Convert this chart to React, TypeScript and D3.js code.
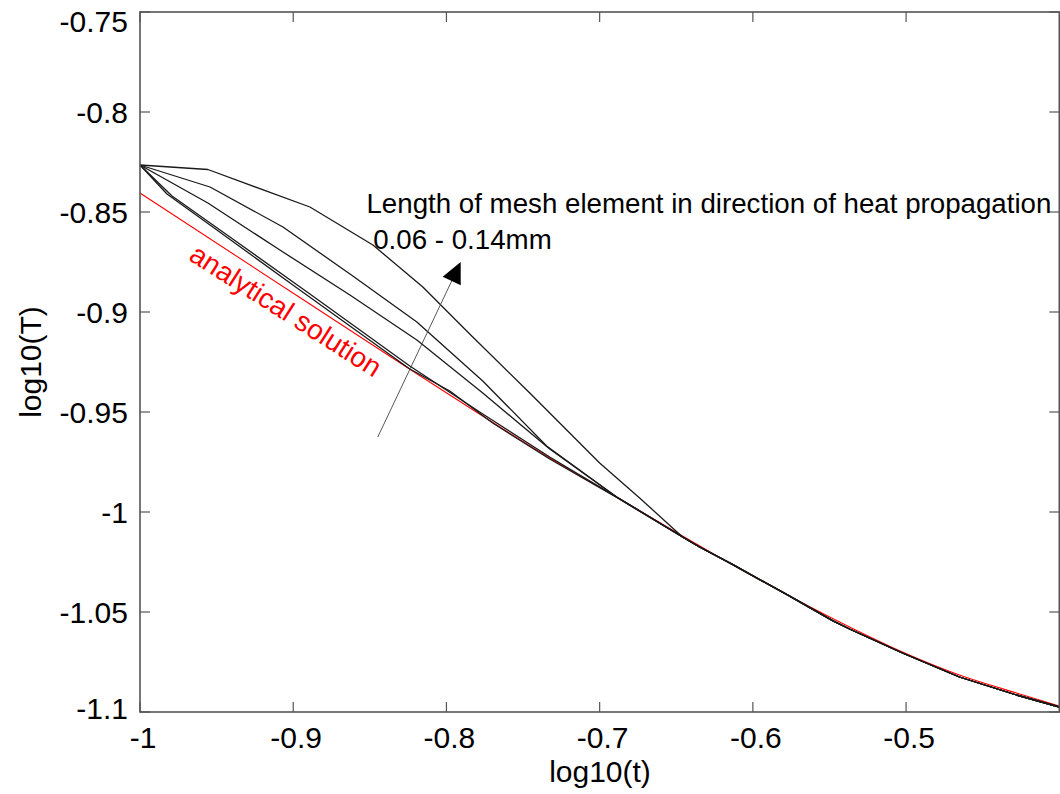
import React from 'react';
import * as d3 from 'd3';

// ---- tick values / labels ----
const xTicks: number[] = [-1, -0.9, -0.8, -0.7, -0.6, -0.5];
const xTickLabels: string[] = ['-1', '-0.9', '-0.8', '-0.7', '-0.6', '-0.5'];
const yTicks: number[] = [-0.75, -0.8, -0.85, -0.9, -0.95, -1, -1.05, -1.1];
const yTickLabels: string[] = ['-0.75', '-0.8', '-0.85', '-0.9', '-0.95', '-1', '-1.05', '-1.1'];

// ---- data: log10(t), log10(T) ----
// shared tail of all numerical curves (they coincide after log10(t) ~ -0.69)
const numericTail: [number, number][] = [
  [-0.6459, -1.0125], [-0.6348, -1.0175], [-0.6133, -1.0262], [-0.6002, -1.0318],
  [-0.578, -1.0412], [-0.548, -1.0543], [-0.5369, -1.0585], [-0.5024, -1.0705],
  [-0.4652, -1.0825], [-0.428, -1.0915], [-0.4, -1.0975],
];
// coarsest mesh (0.14 mm)
const meshA: [number, number][] = [
  [-1, -0.8265], [-0.9557, -0.82875], [-0.8891, -0.8475], [-0.848, -0.8665],
  [-0.8154, -0.8875], [-0.7848, -0.911], [-0.7456, -0.9405], [-0.7, -0.9755],
  [-0.6739, -0.993],
];
const meshB: [number, number][] = [
  [-1, -0.8265], [-0.9543, -0.8375], [-0.9067, -0.8575], [-0.8611, -0.882],
  [-0.8193, -0.905], [-0.7763, -0.9345], [-0.7346, -0.967], [-0.6889, -0.9925],
];
const meshC: [number, number][] = [
  [-1, -0.8265], [-0.9557, -0.8455], [-0.9087, -0.869], [-0.863, -0.8915],
  [-0.8193, -0.914], [-0.7763, -0.9405], [-0.7326, -0.9685], [-0.6889, -0.9925],
];
const meshD: [number, number][] = [
  [-1, -0.8265], [-0.9791, -0.842], [-0.9413, -0.8625], [-0.8891, -0.891],
  [-0.8239, -0.927], [-0.7783, -0.95], [-0.7326, -0.9725], [-0.6889, -0.9925],
];
// finest mesh (0.06 mm)
const meshE: [number, number][] = [
  [-1, -0.8265], [-0.9824, -0.841], [-0.9498, -0.859], [-0.8957, -0.889],
  [-0.8239, -0.9285], [-0.7978, -0.9395], [-0.7698, -0.9555], [-0.7326, -0.9735],
  [-0.6889, -0.99275],
];
const analytical: [number, number][] = [
  [-1, -0.8405], [-0.8957, -0.89275], [-0.7978, -0.9415], [-0.7326, -0.973],
  [-0.6889, -0.9925], [-0.6459, -1.012], [-0.6002, -1.032], [-0.5369, -1.0575],
  [-0.5024, -1.07], [-0.4652, -1.0815], [-0.428, -1.0905], [-0.4, -1.097],
];

const numericSeries = [meshA, meshB, meshC, meshD, meshE];

// annotation anchors (data coords)
const arrowFrom: [number, number] = [-0.8448, -0.9625];
const arrowTip: [number, number] = [-0.7907, -0.875];
const noteLine1: [number, number] = [-0.8522, -0.8505];
const noteLine2: [number, number] = [-0.8478, -0.8685];
const analyticalLabelPos: [number, number] = [-0.9082, -0.9033];

const W = 1060;
const H = 794;
const FONT = '"Liberation Sans", Arial, Helvetica, sans-serif';

export default function App() {
  const left = 140, right = 1059.3, top = 12, bottom = 712;
  const x = d3.scaleLinear().domain([-1, -0.4]).range([left, right]);
  const y = d3.scaleLinear().domain([-1.1, -0.75]).range([bottom, top]);
  const line = d3.line<[number, number]>().x(d => x(d[0])).y(d => y(d[1])).curve(d3.curveLinear);
  const smooth = d3.line<[number, number]>().x(d => x(d[0])).y(d => y(d[1])).curve(d3.curveMonotoneX);

  const tickLen = 10;
  const axisColor = '#555';

  // arrow geometry
  const ax0 = x(arrowFrom[0]), ay0 = y(arrowFrom[1]);
  const ax1 = x(arrowTip[0]), ay1 = y(arrowTip[1]);
  const len = Math.hypot(ax1 - ax0, ay1 - ay0);
  const ux = (ax1 - ax0) / len, uy = (ay1 - ay0) / len;
  const headL = 21, headW = 10;
  const bx = ax1 - ux * headL, by = ay1 - uy * headL;
  const px = -uy, py = ux;
  const head = `M${ax1},${ay1}L${bx + px * headW},${by + py * headW}L${bx - px * headW},${by - py * headW}Z`;

  const angle = 32.5;

  return (
    <div style={{ position: 'absolute', left: 0, top: 0, width: W, height: H, background: '#fff' }}>
      <svg width={W} height={H} style={{ display: 'block' }} fontFamily={FONT}>
        <rect x={0} y={0} width={W} height={H} fill="#fff" />
        {/* curves */}
        <path d={smooth(analytical) || ''} fill="none" stroke="#ff0000" strokeWidth={1.1} />
        {numericSeries.map((s, i) => (
          <path key={i} d={line(s.concat(numericTail)) || ''} fill="none" stroke="#1a1a1a" strokeWidth={1.3} strokeLinejoin="round" />
        ))}

        {/* axes box */}
        <rect x={left} y={top} width={right - left} height={bottom - top} fill="none" stroke={axisColor} strokeWidth={1.6} />
        {xTicks.map((v, i) => (
          <g key={'xt' + i}>
            <line x1={x(v)} x2={x(v)} y1={bottom} y2={bottom - tickLen} stroke={axisColor} strokeWidth={1.2} />
            <line x1={x(v)} x2={x(v)} y1={top} y2={top + tickLen} stroke={axisColor} strokeWidth={1.2} />
            <text x={x(v) + 3} y={737} fontSize={30} textAnchor="middle" dominantBaseline="central" fill="#000">
              {xTickLabels[i]}
            </text>
          </g>
        ))}
        {yTicks.map((v, i) => (
          <g key={'yt' + i}>
            <line x1={left} x2={left + tickLen} y1={y(v)} y2={y(v)} stroke={axisColor} strokeWidth={1.2} />
            <line x1={right} x2={right - tickLen} y1={y(v)} y2={y(v)} stroke={axisColor} strokeWidth={1.2} />
            <text x={128} y={Math.min(Math.max(y(v), 21), 708)} fontSize={30} textAnchor="end" dominantBaseline="central" fill="#000">
              {yTickLabels[i]}
            </text>
          </g>
        ))}

        {/* axis titles */}
        <text x={600} y={782} fontSize={30} textAnchor="middle" fill="#000">log10(t)</text>
        <text transform={`translate(41,362) rotate(-90)`} fontSize={30} textAnchor="middle" fill="#000">log10(T)</text>

        {/* annotations */}
        <line x1={ax0} y1={ay0} x2={bx} y2={by} stroke="#444" strokeWidth={0.9} />
        <path d={head} fill="#000" />
        <text x={x(noteLine1[0])} y={y(noteLine1[1])} fontSize={27.7} fill="#000">
          Length of mesh element in direction of heat propagation
        </text>
        <text x={x(noteLine2[0])} y={y(noteLine2[1])} fontSize={27.7} fill="#000">
          0.06 - 0.14mm
        </text>
        <text
          transform={`translate(${x(analyticalLabelPos[0])},${y(analyticalLabelPos[1])}) rotate(${angle})`}
          fontSize={28}
          textAnchor="middle"
          fill="#ff0000"
        >
          analytical solution
        </text>
      </svg>
    </div>
  );
}
